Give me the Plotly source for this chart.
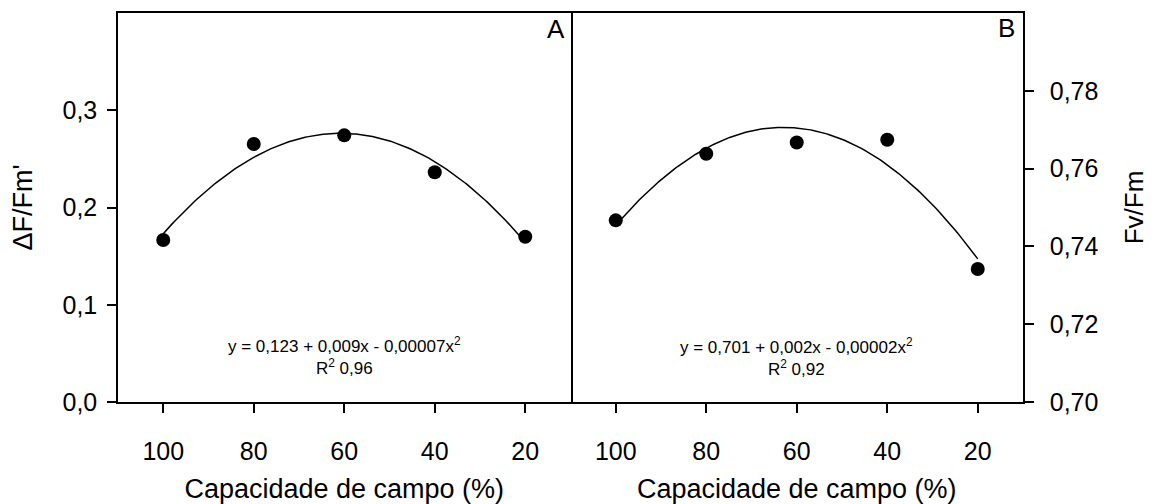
import numpy as np
import plotly.graph_objects as go
from plotly.subplots import make_subplots

# Data
capacidade = [100, 80, 60, 40, 20]
dF_Fm = [0.1666, 0.2653, 0.2742, 0.2362, 0.1700]
Fv_Fm = [0.7467, 0.7638, 0.7667, 0.7674, 0.7342]
x_ticks = [100, 80, 60, 40, 20]
y1_ticks = [0.0, 0.1, 0.2, 0.3]
y2_ticks = [0.70, 0.72, 0.74, 0.76, 0.78]
eq_A = "y = 0,123 + 0,009x - 0,00007x<sup>2</sup><br>R<sup>2</sup> 0,96"
eq_B = "y = 0,701 + 0,002x - 0,00002x<sup>2</sup><br>R<sup>2</sup> 0,92"

FONT = "Liberation Sans, Arial, sans-serif"
TICK = 25
TITLE = 27

# quadratic regression fits from the data
xs = np.linspace(min(capacidade), max(capacidade), 200)
fitA = np.polyval(np.polyfit(capacidade, dF_Fm, 2), xs)
fitB = np.polyval(np.polyfit(capacidade, Fv_Fm, 2), xs)

fig = make_subplots(rows=1, cols=2, horizontal_spacing=0)

fig.add_trace(go.Scatter(x=xs, y=fitA, mode="lines", line=dict(color="black", width=1.5),
                         showlegend=False), row=1, col=1)
fig.add_trace(go.Scatter(x=capacidade, y=dF_Fm, mode="markers",
                         marker=dict(color="black", size=14), showlegend=False), row=1, col=1)
fig.add_trace(go.Scatter(x=xs, y=fitB, mode="lines", line=dict(color="black", width=1.5),
                         showlegend=False), row=1, col=2)
fig.add_trace(go.Scatter(x=capacidade, y=Fv_Fm, mode="markers",
                         marker=dict(color="black", size=14), showlegend=False), row=1, col=2)

axis_common = dict(showline=True, linecolor="black", linewidth=1.5,
                   ticks="outside", ticklen=9, tickwidth=1.5, tickcolor="black",
                   showgrid=False, zeroline=False, automargin=False,
                   tickfont=dict(size=TICK, color="black", family=FONT))

for c in (1, 2):
    fig.update_xaxes(range=[110, 10], tickvals=x_ticks, ticktext=[str(v) for v in x_ticks],
                     mirror=True, ticklabelstandoff=17,
                     title=dict(text="Capacidade de campo (%)",
                                font=dict(size=TITLE, color="black", family=FONT), standoff=16),
                     **axis_common, row=1, col=c)

fig.update_yaxes(range=[0, 0.4], tickvals=y1_ticks, tickformat=".1f", mirror=True,
                 ticklabelstandoff=5,
                 title=dict(text="ΔF/Fm'", font=dict(size=TITLE, color="black", family=FONT), standoff=26),
                 **axis_common, row=1, col=1)
fig.update_yaxes(range=[0.70, 0.80], tickvals=y2_ticks, tickformat=".2f", side="right",
                 mirror=False, ticklabelstandoff=11,
                 title=dict(text="Fv/Fm", font=dict(size=26, color="black", family=FONT), standoff=27),
                 **axis_common, row=1, col=2)

fig.add_annotation(x=60, y=0.047, xref="x", yref="y", text=eq_A, showarrow=False,
                   xanchor="center", yanchor="middle", align="center",
                   font=dict(size=17, color="black", family=FONT))
fig.add_annotation(x=60, y=0.7115, xref="x2", yref="y2", text=eq_B, showarrow=False,
                   xanchor="center", yanchor="middle", align="center",
                   font=dict(size=17, color="black", family=FONT))
fig.add_annotation(text="A", x=1, y=1, xref="x domain", yref="y domain", showarrow=False,
                   xanchor="right", yanchor="top", xshift=-4, yshift=1,
                   font=dict(size=26, color="black", family=FONT))
fig.add_annotation(text="B", x=1, y=1, xref="x2 domain", yref="y2 domain", showarrow=False,
                   xanchor="right", yanchor="top", xshift=-6, yshift=2,
                   font=dict(size=26, color="black", family=FONT))

# page body adds an 8px offset; size the figure so the plot lands where the reference has it
fig.update_layout(width=1146, height=496, margin=dict(l=110, r=131, t=5, b=102),
                  plot_bgcolor="white", paper_bgcolor="white", separators=",.",
                  font=dict(family=FONT, color="black"))

fig.write_html("out.html")
